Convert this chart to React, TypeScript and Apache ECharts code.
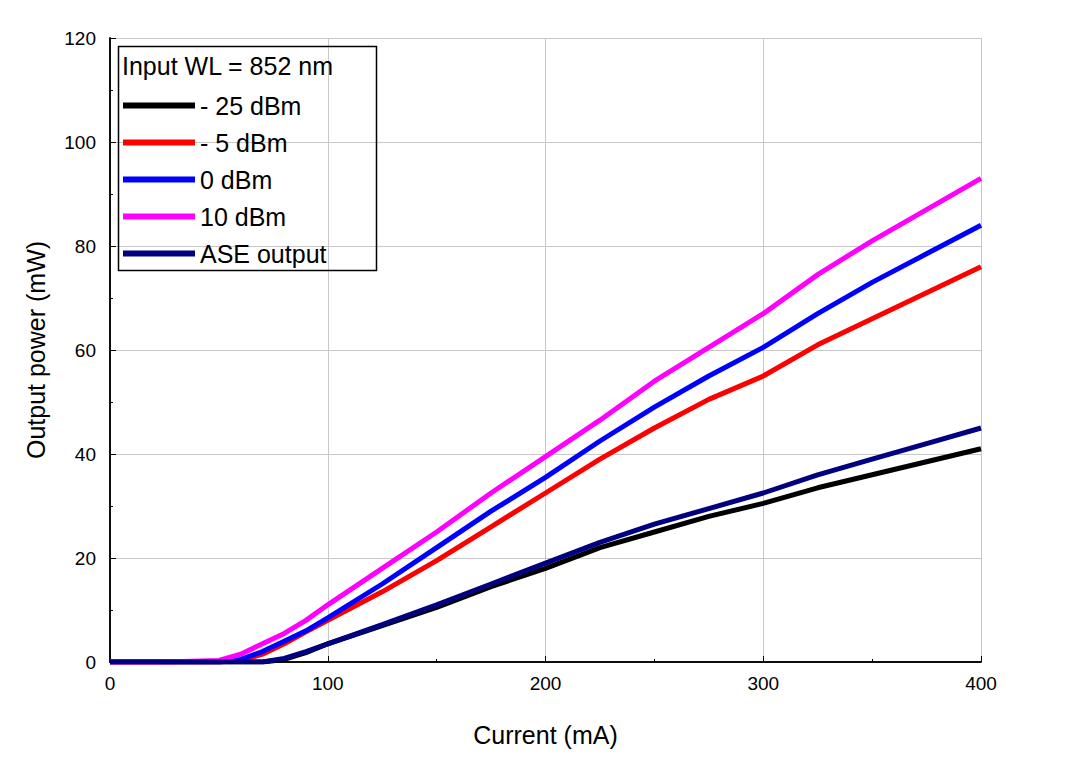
import React, { useRef, useEffect } from "react";
import * as echarts from "echarts";

const current = [0, 25, 50, 60, 70, 80, 90, 100, 125, 150, 175, 200, 225, 250, 275, 300, 325, 350, 375, 400];
const p10dBm = [0, 0, 0.3, 1.5, 3.5, 5.5, 8, 11, 18, 25, 32.5, 39.5, 46.5, 54, 60.5, 67, 74.5, 81, 87, 93];
const p0dBm = [0, 0, 0, 0.5, 2, 4, 6, 8.5, 15, 22, 29, 35.5, 42.5, 49, 55, 60.5, 67, 73, 78.5, 84];
const pm5dBm = [0, 0, 0, 0.3, 1.5, 3.5, 5.8, 8, 13.5, 19.5, 26, 32.5, 39, 45, 50.5, 55, 61, 66, 71, 76];
const pm25dBm = [0, 0, 0, 0, 0, 0.5, 1.8, 3.5, 7, 10.5, 14.5, 18, 22, 25, 28, 30.5, 33.5, 36, 38.5, 41];
const ase = [0, 0, 0, 0, 0, 0.7, 2, 3.5, 7.2, 11, 15, 19, 23, 26.5, 29.5, 32.5, 36, 39, 42, 45];

const seriesDefs = [
  { name: "- 25 dBm", color: "#000000", data: pm25dBm },
  { name: "- 5 dBm", color: "#ff0000", data: pm5dBm },
  { name: "0 dBm", color: "#0000ff", data: p0dBm },
  { name: "10 dBm", color: "#ff00ff", data: p10dBm },
  { name: "ASE output", color: "#000080", data: ase },
];

const font = "Arial, 'Liberation Sans', sans-serif";

const App = () => {
  const ref = useRef<HTMLDivElement>(null);
  useEffect(() => {
    const chart = echarts.init(ref.current, null, { renderer: "svg" });
    const axisCommon = {
      axisLine: { show: true, lineStyle: { color: "#000", width: 1.5 } },
      axisTick: { show: true, inside: true, length: 6, lineStyle: { color: "#000" } },
      minorTick: { show: true, splitNumber: 2, length: 3, lineStyle: { color: "#000" } },
      nameTextStyle: { fontSize: 25, color: "#000", fontFamily: font },
      axisLabel: { fontSize: 19, color: "#000", fontFamily: font },
    };
    chart.setOption({
      animation: false,
      grid: { left: 102, right: 102, top: 30, bottom: 92 },
      xAxis: [
        {
          type: "value", min: 0, max: 400, interval: 100, name: "Current (mA)",
          nameLocation: "middle", nameGap: 60, ...axisCommon,
          axisLabel: { ...axisCommon.axisLabel, margin: 12 },
          splitLine: { show: true, lineStyle: { color: "#c8c8c8" } },
        },
        {
          type: "value", position: "top", min: 0, max: 400, interval: 100,
          axisLine: { show: true, lineStyle: { color: "#000", width: 1.5 } },
          axisTick: { show: false }, axisLabel: { show: false }, splitLine: { show: false },
        },
      ],
      yAxis: [
        {
          type: "value", min: 0, max: 120, interval: 20, name: "Output power (mW)",
          nameLocation: "middle", nameGap: 62, ...axisCommon,
          axisLabel: { ...axisCommon.axisLabel, margin: 14 },
          splitLine: { show: true, lineStyle: { color: "#c8c8c8" } },
        },
        {
          type: "value", position: "right", min: 0, max: 120, interval: 20,
          axisLine: { show: true, lineStyle: { color: "#000", width: 1.5 } },
          axisTick: { show: false }, axisLabel: { show: false }, splitLine: { show: false },
        },
      ],
      legend: {
        orient: "vertical", left: 110, top: 80,
        itemWidth: 72, itemHeight: 6, itemGap: 12, icon: "rect",
        textStyle: { fontSize: 25, color: "#000", fontFamily: font },
        data: seriesDefs.map((s) => s.name),
      },
      graphic: [
        {
          type: "rect", left: 108, top: 36, z: 100,
          shape: { width: 258, height: 224 },
          style: { fill: "none", stroke: "#000", lineWidth: 1.5 },
        },
        {
          type: "text", left: 114, top: 45, z: 100,
          style: { text: "Input WL = 852 nm", fontSize: 25, fill: "#000", fontFamily: font },
        },
      ],
      series: seriesDefs.map((s) => ({
        name: s.name, type: "line", showSymbol: false,
        data: current.map((x, i) => [x, s.data[i]]),
        lineStyle: { color: s.color, width: 5 },
        itemStyle: { color: s.color },
      })),
    });
    return () => chart.dispose();
  }, []);
  return <div ref={ref} style={{ width: 1075, height: 746 }} />;
};

export default App;
